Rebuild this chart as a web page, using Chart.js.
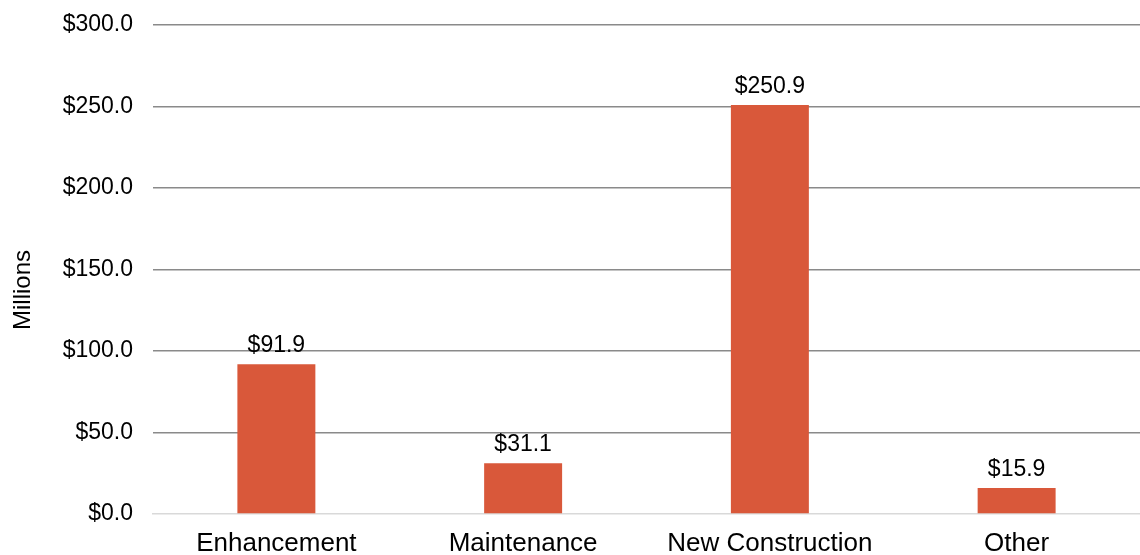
<!DOCTYPE html>
<html>
<head>
<meta charset="utf-8">
<script src="https://cdn.jsdelivr.net/npm/chart.js@4"></script>
<style>
  html, body { margin: 0; padding: 0; background: #fff; overflow: hidden; }
  #wrap { width: 1140px; height: 555px; }
</style>
</head>
<body>
<div id="wrap"><canvas id="spendChart" width="1140" height="555"></canvas></div>
<script>
const categories = ['Enhancement', 'Maintenance', 'New Construction', 'Other'];
const amounts = [91.9, 31.1, 250.9, 15.9];
const yTicks = [0, 50, 100, 150, 200, 250, 300];
const yTitle = 'Millions';

const money = v => '$' + v.toFixed(1);
const FONT = '"Liberation Sans", Arial, sans-serif';

// value labels above each bar + the axis title (sits a bit below centre in the original)
const barLabels = {
  id: 'barLabels',
  afterDatasetsDraw(chart) {
    const c = chart.ctx;
    const meta = chart.getDatasetMeta(0);
    c.save();
    c.font = '23px ' + FONT;
    c.fillStyle = '#000';
    c.textAlign = 'center';
    c.textBaseline = 'alphabetic';
    meta.data.forEach((bar, i) => {
      c.fillText(money(amounts[i]), bar.x, bar.y - 12);
    });

    c.font = '24px ' + FONT;
    c.textBaseline = 'middle';
    c.translate(23, 290);
    c.rotate(-Math.PI / 2);
    c.fillText(yTitle, 0, 0);
    c.restore();
  }
};

const ctx = document.getElementById('spendChart').getContext('2d');
const spendChart = new Chart(ctx, {
  type: 'bar',
  data: {
    labels: categories,
    datasets: [{
      data: amounts,
      backgroundColor: '#d9583a',
      borderWidth: 0,
      categoryPercentage: 1,
      barPercentage: 0.316
    }]
  },
  plugins: [barLabels],
  options: {
    responsive: false,
    animation: false,
    layout: { padding: { top: 25, right: 0, left: 0, bottom: 0 } },
    plugins: {
      legend: { display: false },
      tooltip: { enabled: false }
    },
    scales: {
      x: {
        grid: { display: false, drawTicks: false },
        border: { display: true, color: '#d9d9d9', width: 1.5 },
        ticks: {
          color: '#000',
          padding: 14,
          font: { family: FONT, size: 26 },
          maxRotation: 0
        },
        afterFit(scale) { scale.height = 41; }
      },
      y: {
        min: 0,
        max: 300,
        afterBuildTicks(scale) { scale.ticks = yTicks.map(v => ({ value: v })); },
        grid: {
          color: ctx => ctx.tick.value === 0 ? 'rgba(0,0,0,0)' : '#8a8a8a',
          lineWidth: 1.5,
          drawTicks: false
        },
        border: { display: false },
        ticks: {
          color: '#000',
          padding: 20,
          font: { family: FONT, size: 23 },
          callback: v => money(v)
        },
        afterFit(scale) {
          scale.width = 153;
          scale.paddingTop = 0;
          scale.paddingBottom = 0;
        }
      }
    }
  }
});
</script>
</body>
</html>
